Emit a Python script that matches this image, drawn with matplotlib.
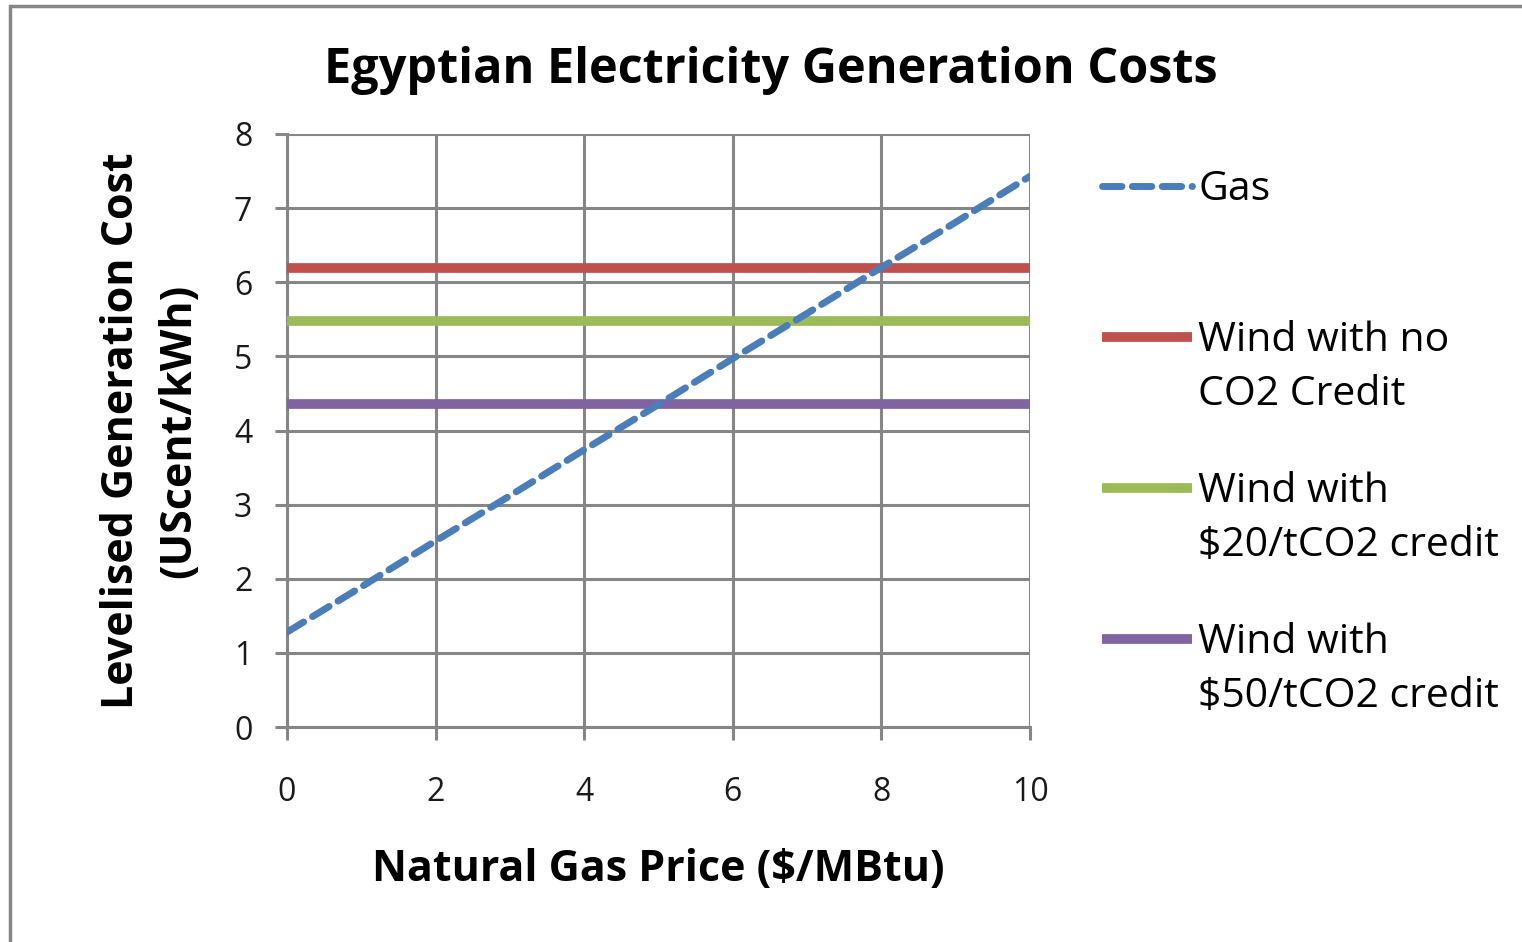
import matplotlib
matplotlib.use("Agg")
import matplotlib.pyplot as plt
from matplotlib.patches import Rectangle
from matplotlib.legend_handler import HandlerLine2D

plt.rcParams['font.family'] = ['Open Sans', 'DejaVu Sans']

gas_price = [0, 1, 2, 3, 4, 5, 6, 7, 8, 9, 10]
gas_cost = [1.28, 1.89, 2.51, 3.12, 3.74, 4.35, 4.97, 5.58, 6.20, 6.81, 7.43]
wind_x = [0, 10]
wind_no_credit = [6.19, 6.19]
wind_20_credit = [5.48, 5.48]
wind_50_credit = [4.36, 4.36]
labels = ["Gas\n ", "Wind with no\nCO2 Credit", "Wind with\n$20/tCO2 credit", "Wind with\n$50/tCO2 credit"]
xticks = [0, 2, 4, 6, 8, 10]
yticks = [0, 1, 2, 3, 4, 5, 6, 7, 8]

grey = '#868686'


class TopLineHandler(HandlerLine2D):
    def __init__(self, shift, **kw):
        super().__init__(**kw)
        self.shift = shift

    def create_artists(self, legend, orig_handle, xdescent, ydescent, width, height, fontsize, trans):
        artists = super().create_artists(legend, orig_handle, xdescent, ydescent, width, height, fontsize, trans)
        for a in artists:
            a.set_ydata([y + self.shift for y in a.get_ydata()])
        return artists


fig = plt.figure(figsize=(15.22, 9.42), dpi=100)
fig.patches.append(Rectangle((10/1522, -0.01), 1.1, 1 - 6/942 + 0.01, transform=fig.transFigure,
                             fill=False, edgecolor=grey, linewidth=2.5))
ax = fig.add_axes([287/1522, 1 - 727/942, (1030 - 287)/1522, (727 - 134)/942])

ax.plot(gas_price, gas_cost, color='#4A7EBB', linewidth=5, linestyle=(0, (2.8, 1.5)),
        dash_capstyle='round', label=labels[0], zorder=4)
ax.plot(wind_x, wind_no_credit, color='#C0504D', linewidth=7, label=labels[1], zorder=3, solid_capstyle='butt')
ax.plot(wind_x, wind_20_credit, color='#9BBB59', linewidth=7, label=labels[2], zorder=3, solid_capstyle='butt')
ax.plot(wind_x, wind_50_credit, color='#8064A2', linewidth=7, label=labels[3], zorder=3, solid_capstyle='butt')

ax.set_xlim(0, 10)
ax.set_ylim(0, 8)
ax.set_xticks(xticks)
ax.set_yticks(yticks)
ax.grid(True, color=grey, linewidth=2.2)
ax.set_axisbelow(True)
for s in ax.spines.values():
    s.set_visible(False)
for side in ('left', 'bottom'):
    ax.spines[side].set_visible(True)
    ax.spines[side].set_color(grey)
    ax.spines[side].set_linewidth(2.2)
ax.tick_params(axis='both', colors=grey, width=2.2, length=9, labelsize=23, labelcolor='#1a1a1a')
ax.tick_params(axis='x', pad=26)
ax.tick_params(axis='y', pad=16)

ax.set_title("Egyptian Electricity Generation Costs", fontsize=35, fontweight='bold', pad=37, x=0.651)
ax.set_xlabel("Natural Gas Price ($/MBtu)", fontsize=31, fontweight='bold', labelpad=28)
ax.set_ylabel("Levelised Generation Cost\n(UScent/kWh)", fontsize=31, fontweight='bold', labelpad=24, linespacing=1.45)

shift = 22.8
leg = ax.legend(loc='upper left', bbox_to_anchor=(1.097, 0.94), frameon=False, fontsize=29.5,
                handlelength=2.2, handletextpad=0.15, labelspacing=1.37, borderaxespad=0, borderpad=0,
                handler_map={type(ax.lines[0]): TopLineHandler(shift)})
for t in leg.get_texts():
    t.set_linespacing(1.45)

fig.savefig("out.png", dpi=100)
